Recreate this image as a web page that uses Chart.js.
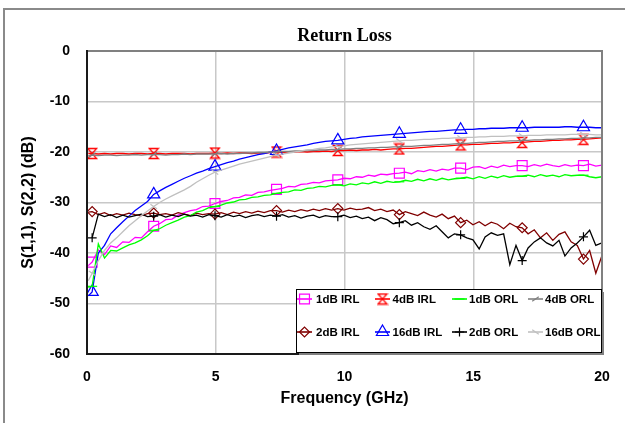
<!DOCTYPE html>
<html><head><meta charset="utf-8">
<script src="https://cdn.jsdelivr.net/npm/chart.js@4.4.1/dist/chart.umd.min.js"></script>
<style>html,body{margin:0;padding:0;background:#fff;} #wrap{position:relative;width:625px;height:423px;}</style>
</head><body><div id="wrap"><canvas id="c" width="625" height="423"></canvas></div>
<script>
const freq = [0.05,
 0.2, 0.44, 0.68, 0.92, 1.15, 1.39, 1.63, 1.87, 2.11, 2.35,
 2.59, 2.82, 3.06, 3.3, 3.54, 3.78, 4.02, 4.25, 4.49, 4.73,
 4.97, 5.21, 5.45, 5.69, 5.92, 6.16, 6.4, 6.64, 6.88, 7.12,
 7.36, 7.59, 7.83, 8.07, 8.31, 8.55, 8.79, 9.02, 9.26, 9.5,
 9.74, 9.98, 10.22, 10.46, 10.69, 10.93, 11.17, 11.41, 11.65, 11.89,
 12.13, 12.36, 12.6, 12.84, 13.08, 13.32, 13.56, 13.79, 14.03, 14.27,
 14.51, 14.75, 14.99, 15.23, 15.46, 15.7, 15.94, 16.18, 16.42, 16.66,
 16.9, 17.13, 17.37, 17.61, 17.85, 18.09, 18.33, 18.56, 18.8, 19.04,
 19.28, 19.52, 19.76, 20.0];
const markerFreq = [0.2, 2.59, 4.97, 7.36, 9.74, 12.13, 14.51, 16.9, 19.28];
const xTickValues = [0, 5, 10, 15, 20];
const yTickValues = [-60, -50, -40, -30, -20, -10, 0];

const irl1dB = [-42.5,
 -41.8, -39.4, -40.3, -38.6, -38.9, -37.8, -37.9, -36.9, -37.0, -35.8,
 -34.7, -34.2, -33.4, -33.3, -32.5, -32.0, -31.6, -31.4, -30.8, -30.7,
 -30.2, -29.8, -29.6, -29.1, -29.0, -28.5, -28.6, -28.0, -27.9, -27.6,
 -27.4, -27.2, -26.8, -26.9, -26.4, -26.3, -26.0, -26.1, -25.7, -25.6,
 -25.5, -25.2, -25.3, -24.9, -25.0, -24.6, -24.8, -24.4, -24.5, -24.3,
 -24.2, -24.0, -24.3, -23.7, -23.9, -23.5, -23.8, -23.4, -23.6, -23.2,
 -23.2, -23.5, -23.0, -22.9, -23.3, -22.8, -23.1, -22.6, -22.9, -22.7,
 -22.7, -22.9, -22.5, -22.8, -22.4, -22.7, -22.9, -22.5, -22.8, -22.6,
 -22.7, -22.4, -22.8, -22.6];
const irl2dB = [-31.9,
 -31.8, -32.4, -32.0, -32.6, -32.2, -32.5, -32.1, -32.4, -32.6, -32.2,
 -32.1, -32.4, -32.2, -32.5, -32.0, -32.3, -32.6, -32.1, -32.4, -32.2,
 -32.3, -32.0, -32.4, -31.9, -32.2, -31.8, -32.1, -31.7, -32.0, -31.6,
 -31.6, -31.9, -31.5, -31.8, -31.4, -31.7, -31.3, -31.6, -31.2, -31.5,
 -31.2, -31.5, -31.1, -31.4, -31.3, -31.0, -31.6, -31.3, -31.8, -31.5,
 -32.4, -31.8, -32.2, -32.6, -31.9, -32.5, -32.9, -32.3, -33.2, -32.7,
 -34.0, -33.5, -34.4, -33.8, -34.6, -33.9, -34.3, -35.2, -34.1, -34.8,
 -35.0, -36.2, -35.4, -37.0, -36.0, -37.5, -36.3, -35.8, -37.8, -38.5,
 -41.2, -39.5, -44.0, -40.5];
const irl4dB = [-20.3,
 -20.3, -20.4, -20.3, -20.4, -20.3, -20.3, -20.4, -20.3, -20.3, -20.4,
 -20.3, -20.3, -20.4, -20.3, -20.3, -20.3, -20.4, -20.3, -20.3, -20.3,
 -20.2, -20.3, -20.2, -20.3, -20.2, -20.2, -20.3, -20.2, -20.2, -20.1,
 -20.0, -20.1, -20.0, -20.0, -19.9, -20.0, -19.9, -19.9, -19.8, -19.9,
 -19.7, -19.7, -19.6, -19.7, -19.6, -19.6, -19.5, -19.6, -19.5, -19.4,
 -19.4, -19.3, -19.3, -19.2, -19.1, -19.0, -18.9, -18.9, -18.8, -18.7,
 -18.6, -18.6, -18.5, -18.5, -18.4, -18.3, -18.3, -18.2, -18.2, -18.1,
 -18.1, -18.0, -17.9, -17.9, -17.8, -17.7, -17.7, -17.6, -17.6, -17.5,
 -17.5, -17.4, -17.3, -17.2];
const irl16dB = [-48.5,
 -47.7, -40.0, -38.5, -36.2, -35.0, -33.8, -32.7, -31.6, -30.7, -29.8,
 -28.4, -27.7, -27.0, -26.4, -25.8, -25.2, -24.7, -24.2, -23.8, -23.3,
 -22.9, -22.5, -22.1, -21.8, -21.4, -21.1, -20.8, -20.5, -20.3, -20.0,
 -19.8, -19.5, -19.2, -19.0, -18.8, -18.6, -18.3, -18.1, -17.9, -17.8,
 -17.7, -17.5, -17.3, -17.2, -17.0, -16.9, -16.8, -16.7, -16.6, -16.5,
 -16.4, -16.3, -16.2, -16.1, -16.0, -15.9, -15.9, -15.8, -15.7, -15.6,
 -15.6, -15.5, -15.5, -15.4, -15.4, -15.3, -15.3, -15.3, -15.2, -15.2,
 -15.2, -15.2, -15.1, -15.1, -15.1, -15.1, -15.1, -15.0, -15.0, -15.1,
 -15.1, -15.1, -15.2, -15.2];
const orl1dB = [-46.8,
 -46.6, -38.2, -41.0, -39.5, -39.6, -39.0, -38.4, -38.0, -37.4, -36.6,
 -35.5, -35.2, -34.5, -34.0, -33.5, -32.9, -32.6, -31.9, -31.6, -31.0,
 -30.8, -30.5, -30.1, -29.9, -29.5, -29.4, -29.0, -28.9, -28.6, -28.5,
 -28.2, -28.0, -27.9, -27.5, -27.6, -27.2, -27.1, -26.8, -26.9, -26.6,
 -26.5, -26.7, -26.3, -26.5, -26.1, -26.3, -25.9, -26.2, -25.8, -26.0,
 -25.9, -25.6, -25.8, -25.4, -25.7, -25.3, -25.6, -25.2, -25.5, -25.3,
 -25.2, -25.0, -25.3, -24.9, -25.2, -24.8, -25.1, -24.7, -25.0, -24.8,
 -24.8, -24.6, -24.9, -24.5, -24.8, -24.6, -24.9, -24.5, -24.7, -24.6,
 -24.6, -24.9, -25.1, -24.9];
const orl2dB = [null,
 -37.0, -32.3, -32.8, -32.4, -33.0, -32.5, -32.9, -32.6, -32.3, -32.8,
 -32.7, -32.4, -32.9, -32.5, -32.8, -32.3, -32.7, -32.5, -32.9, -32.4,
 -32.6, -32.9, -32.4, -32.8, -32.5, -33.0, -32.6, -32.4, -32.8, -32.5,
 -32.7, -32.4, -32.9, -32.6, -33.1, -32.7, -32.5, -33.0, -32.6, -32.8,
 -32.8, -32.5, -33.0, -32.7, -33.2, -32.9, -33.6, -33.0, -33.4, -34.2,
 -34.0, -33.6, -34.5, -34.0, -34.8, -35.3, -34.6, -35.8, -37.0, -36.2,
 -36.4, -37.0, -37.4, -39.2, -36.8, -36.0, -36.5, -36.2, -42.3, -38.5,
 -41.5, -39.0, -37.8, -37.0, -38.0, -38.6, -37.5, -40.6, -39.0, -38.0,
 -36.8, -35.5, -38.5, -38.0];
const orl4dB = [-20.7,
 -20.6, -20.7, -20.6, -20.6, -20.7, -20.6, -20.6, -20.5, -20.6, -20.5,
 -20.5, -20.5, -20.6, -20.5, -20.5, -20.4, -20.5, -20.4, -20.4, -20.4,
 -20.4, -20.3, -20.4, -20.3, -20.3, -20.2, -20.2, -20.1, -20.1, -20.0,
 -20.0, -19.9, -19.9, -19.8, -19.8, -19.7, -19.7, -19.6, -19.6, -19.5,
 -19.5, -19.4, -19.4, -19.3, -19.3, -19.2, -19.2, -19.1, -19.1, -19.0,
 -19.0, -18.9, -18.9, -18.8, -18.7, -18.7, -18.6, -18.5, -18.5, -18.4,
 -18.3, -18.3, -18.2, -18.1, -18.1, -18.0, -17.9, -17.9, -17.8, -17.8,
 -17.7, -17.7, -17.6, -17.6, -17.5, -17.5, -17.4, -17.4, -17.3, -17.3,
 -17.2, -17.2, -17.1, -17.1];
const orl16dB = [-45.5,
 -44.0, -41.5, -39.5, -38.0, -37.0, -35.8, -34.6, -33.6, -32.6, -31.7,
 -30.8, -30.0, -29.3, -28.7, -28.1, -27.5, -26.8, -26.0, -25.3, -24.6,
 -24.0, -23.6, -23.2, -22.8, -22.4, -22.1, -21.8, -21.5, -21.2, -20.9,
 -20.6, -20.4, -20.2, -20.0, -19.8, -19.6, -19.5, -19.3, -19.2, -19.0,
 -18.9, -18.8, -18.6, -18.5, -18.4, -18.3, -18.2, -18.1, -18.0, -17.9,
 -17.8, -17.7, -17.7, -17.6, -17.5, -17.5, -17.4, -17.3, -17.3, -17.2,
 -17.2, -17.1, -17.1, -17.0, -17.0, -16.9, -16.9, -16.9, -16.8, -16.8,
 -16.8, -16.7, -16.7, -16.7, -16.6, -16.6, -16.6, -16.6, -16.5, -16.5,
 -16.5, -16.5, -16.6, -16.6];

function makeHourglass(color) {
  const c = document.createElement('canvas');
  c.width = 12; c.height = 13;
  const g = c.getContext('2d');
  g.strokeStyle = color; g.lineWidth = 1.3;
  g.beginPath();
  g.moveTo(1.5, 1.5); g.lineTo(10.5, 1.5); g.lineTo(1.5, 11.5); g.lineTo(10.5, 11.5); g.closePath();
  g.stroke();
  return c;
}

const seriesDefs = [
  {label: '1dB IRL', values: irl1dB, color: '#FF00FF', style: 'rect', r: 7, rot: 0},
  {label: '2dB IRL', values: irl2dB, color: '#800000', style: 'rectRot', r: 5, rot: 0},
  {label: '4dB IRL', values: irl4dB, color: '#FF0000', style: makeHourglass('#FF0000'), r: 5, rot: 0},
  {label: '16dB IRL', values: irl16dB, color: '#0000FF', style: 'triangle', r: 7, rot: 0},
  {label: '1dB ORL', values: orl1dB, color: '#00FF00', style: 'line', r: 5, rot: 0},
  {label: '2dB ORL', values: orl2dB, color: '#000000', style: 'cross', r: 4.5, rot: 0},
  {label: '4dB ORL', values: orl4dB, color: '#808080', style: 'line', r: 4, rot: -35},
  {label: '16dB ORL', values: orl16dB, color: '#C0C0C0', style: 'line', r: 4, rot: 35}
];

const SANS = "'Liberation Sans', Arial, sans-serif";
const LINE_W = 1.3;

function drawMarker(c, s, x, y) {
  const H = Chart.helpers;
  c.save();
  c.strokeStyle = s.color; c.fillStyle = 'rgba(0,0,0,0)'; c.lineWidth = 1.2;
  if (H && H.drawPoint) {
    H.drawPoint(c, {pointStyle: s.style, rotation: s.rot, radius: s.r, borderWidth: 1.2}, x, y);
  }
  c.restore();
}

function drawLegend(chart) {
  const c = chart.ctx;
  const box = {x: 296, y: 289, w: 305, h: 63};
  const rows = [299, 332];
  const cols = [[297, 312, 316], [375, 390, 392.5], [452, 467, 469], [528, 543, 545]];
  c.save();
  c.fillStyle = '#808080';
  c.fillRect(box.x + 3, box.y + 3, box.w, box.h);
  c.fillStyle = '#ffffff';
  c.fillRect(box.x, box.y, box.w, box.h);
  c.strokeStyle = '#000'; c.lineWidth = 1;
  c.strokeRect(box.x + 0.5, box.y + 0.5, box.w, box.h);
  c.font = "bold 11.5px " + SANS;
  c.textBaseline = 'middle'; c.textAlign = 'left';
  seriesDefs.forEach((s, i) => {
    const col = cols[Math.floor(i / 2)];
    const y = rows[i % 2];
    c.strokeStyle = s.color; c.lineWidth = 1.6;
    c.beginPath(); c.moveTo(col[0], y); c.lineTo(col[1], y); c.stroke();
    drawMarker(c, s, (col[0] + col[1]) / 2, y);
    c.fillStyle = '#000';
    c.fillText(s.label, col[2], y + 0.5);
  });
  c.restore();
}

const framePlugin = {
  id: 'frame',
  beforeDraw(chart) {
    const c = chart.ctx;
    c.save();
    c.fillStyle = '#fff'; c.fillRect(0, 0, chart.width, chart.height);
    c.strokeStyle = '#8a8a8a'; c.lineWidth = 2;
    c.beginPath(); c.moveTo(4, chart.height); c.lineTo(4, 9); c.lineTo(chart.width, 9); c.stroke();
    c.restore();
  },
  afterDatasetsDraw(chart) {
    const {left, right, top, bottom} = chart.chartArea;
    const c = chart.ctx;
    c.save();
    c.lineWidth = 2;
    c.strokeStyle = '#808080';
    c.beginPath(); c.moveTo(left, top); c.lineTo(right, top); c.lineTo(right, bottom); c.stroke();
    c.strokeStyle = '#1a1a1a';
    c.beginPath(); c.moveTo(left, top - 1); c.lineTo(left, bottom); c.lineTo(right + 1, bottom); c.stroke();
    c.restore();
    drawLegend(chart);
  }
};

const chart = new Chart(document.getElementById('c'), {
  type: 'line',
  data: {
    datasets: seriesDefs.map((s, i) => ({
      label: s.label,
      data: freq.map((f, k) => ({x: f, y: s.values[k]})),
      borderColor: s.color,
      backgroundColor: 'rgba(0,0,0,0)',
      borderWidth: LINE_W,
      tension: 0,
      spanGaps: false,
      pointStyle: s.style,
      pointRotation: s.rot,
      pointRadius: (ctx) => markerFreq.includes(freq[ctx.dataIndex]) ? s.r : 0,
      pointHoverRadius: 0,
      pointBorderColor: s.color,
      pointBackgroundColor: 'rgba(0,0,0,0)',
      pointBorderWidth: 1.2,
      order: 8 - i
    }))
  },
  options: {
    responsive: false,
    animation: false,
    events: [],
    layout: {padding: {left: 0, right: 23, top: 0, bottom: 0}},
    plugins: {
      legend: {display: false},
      tooltip: {enabled: false},
      title: {
        display: true, text: 'Return Loss', fullSize: false,
        color: '#000',
        font: {family: "'Liberation Serif', 'Times New Roman', serif", size: 18, weight: 'bold', lineHeight: 1.2},
        padding: {top: 26, bottom: 3.4}
      }
    },
    scales: {
      x: {
        type: 'linear', min: 0, max: 20,
        afterBuildTicks: (sc) => { sc.ticks = xTickValues.map(v => ({value: v})); },
        afterFit: (sc) => { sc.height = 69; },
        ticks: {color: '#000', font: {family: SANS, size: 14, weight: 'bold'}, padding: 15, maxRotation: 0},
        grid: {color: '#c8c8c8', lineWidth: 1.5, drawTicks: false},
        border: {display: false},
        title: {display: true, text: 'Frequency (GHz)', color: '#000',
          font: {family: SANS, size: 16, weight: 'bold', lineHeight: 1.2}, padding: {top: 0, bottom: 14.4}}
      },
      y: {
        type: 'linear', min: -60, max: 0,
        afterBuildTicks: (sc) => { sc.ticks = yTickValues.map(v => ({value: v})); },
        afterFit: (sc) => { sc.width = 87; },
        ticks: {color: '#000', font: {family: SANS, size: 14, weight: 'bold'}, padding: 17},
        grid: {color: '#c8c8c8', lineWidth: 1.5, drawTicks: false},
        border: {display: false},
        title: {display: true, text: 'S(1,1), S(2,2) (dB)', color: '#000',
          font: {family: SANS, size: 16, weight: 'bold', lineHeight: 1.2}, padding: {top: 18.5, bottom: 0}}
      }
    }
  },
  plugins: [framePlugin]
});
</script>
</body></html>
